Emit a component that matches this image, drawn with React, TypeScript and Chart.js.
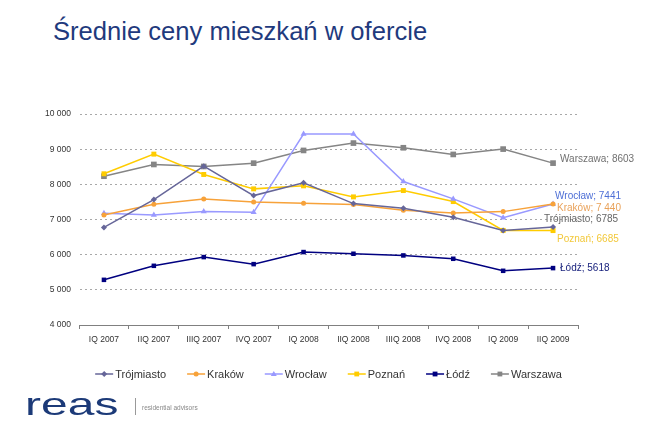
import React, { useEffect, useRef } from "react";
import { Chart, registerables } from "chart.js";

Chart.register(...registerables);

const categories = ["IQ 2007", "IIQ 2007", "IIIQ 2007", "IVQ 2007", "IQ 2008", "IIQ 2008", "IIIQ 2008", "IVQ 2008", "IQ 2009", "IIQ 2009"];

const trojmiasto = [6776, 7566, 8517, 7680, 8043, 7452, 7318, 7061, 6690, 6785];
const krakow = [7130, 7432, 7586, 7500, 7461, 7424, 7261, 7187, 7224, 7440];
const wroclaw = [7175, 7130, 7224, 7204, 9430, 9430, 8080, 7586, 7053, 7441];
const poznan = [8300, 8859, 8280, 7871, 7957, 7643, 7823, 7510, 6690, 6685];
const lodz = [5284, 5683, 5931, 5731, 6074, 6026, 5978, 5883, 5541, 5618];
const warszawa = [8231, 8565, 8508, 8602, 8964, 9173, 9040, 8850, 9002, 8603];

const seriesNames = ["Trójmiasto", "Kraków", "Wrocław", "Poznań", "Łódź", "Warszawa"];
const endLabels = ["Trójmiasto; 6785", "Kraków; 7 440", "Wrocław; 7441", "Poznań; 6685", "Łódź; 5618", "Warszawa; 8603"];

const yMin = 4000;
const yMax = 10000;
const yStep = 1000;

const FONT = "'Liberation Sans', Arial, Helvetica, sans-serif";

const colors = ["#666699", "#F7A23A", "#9999FF", "#FFCC00", "#000080", "#858585"];
const labelColors = ["#666666", "#E9A25A", "#4E6FD6", "#F2C83A", "#1A237E", "#707070"];
const pointStyles = ["rectRot", "circle", "triangle", "rect", "rect", "rect"];
const pointRadii = [3, 2.5, 3.5, 3.5, 3.2, 4];
const labelOffsets = [
  [-9, -8],
  [4, 4],
  [2, -8],
  [4, 9],
  [7, 0],
  [7, -4],
];

function fmt(v: number) {
  const s = String(Math.round(v));
  return s.replace(/\B(?=(\d{3})+(?!\d))/g, " ");
}

function drawMarker(ctx: CanvasRenderingContext2D, style: string, x: number, y: number, r: number, color: string) {
  ctx.save();
  ctx.fillStyle = color;
  ctx.beginPath();
  if (style === "circle") {
    ctx.arc(x, y, r, 0, Math.PI * 2);
  } else if (style === "rect") {
    ctx.rect(x - r * 0.8, y - r * 0.8, r * 1.6, r * 1.6);
  } else if (style === "rectRot") {
    ctx.moveTo(x, y - r);
    ctx.lineTo(x + r, y);
    ctx.lineTo(x, y + r);
    ctx.lineTo(x - r, y);
    ctx.closePath();
  } else if (style === "triangle") {
    ctx.moveTo(x, y - r);
    ctx.lineTo(x + r, y + r * 0.7);
    ctx.lineTo(x - r, y + r * 0.7);
    ctx.closePath();
  }
  ctx.fill();
  ctx.restore();
}

const overlayPlugin = {
  id: "overlay",
  afterDatasetsDraw(chart: any) {
    const ctx: CanvasRenderingContext2D = chart.ctx;
    ctx.save();
    ctx.font = `10px ${FONT}`;
    ctx.textBaseline = "middle";
    ctx.textAlign = "left";
    chart.data.datasets.forEach((ds: any, i: number) => {
      const meta = chart.getDatasetMeta(i);
      const pt = meta.data[meta.data.length - 1];
      if (!pt) return;
      ctx.fillStyle = labelColors[i];
      ctx.fillText(endLabels[i], pt.x + labelOffsets[i][0], pt.y + labelOffsets[i][1]);
    });
    // legend
    ctx.font = `11px ${FONT}`;
    const lineW = 18;
    const gap = 2;
    const itemGap = 21;
    const widths = seriesNames.map((n) => lineW + gap + ctx.measureText(n).width);
    const total = widths.reduce((a, b) => a + b, 0) + itemGap * (seriesNames.length - 1);
    const cx = (chart.chartArea.left + chart.chartArea.right) / 2;
    let x = cx - total / 2;
    const y = 374;
    seriesNames.forEach((n, i) => {
      ctx.strokeStyle = colors[i];
      ctx.lineWidth = 1.5;
      ctx.beginPath();
      ctx.moveTo(x, y);
      ctx.lineTo(x + lineW, y);
      ctx.stroke();
      drawMarker(ctx, pointStyles[i], x + lineW / 2, y, Math.min(pointRadii[i], 3), colors[i]);
      ctx.fillStyle = "#333333";
      ctx.fillText(n, x + lineW + gap, y + 0.5);
      x += widths[i] + itemGap;
    });
    ctx.restore();
  },
};

export default function App() {
  const ref = useRef<HTMLCanvasElement | null>(null);
  useEffect(() => {
    if (!ref.current) return;
    const all = [trojmiasto, krakow, wroclaw, poznan, lodz, warszawa];
    const chart = new Chart(ref.current, {
      type: "line",
      data: {
        labels: categories,
        datasets: all.map((d, i) => ({
          label: seriesNames[i],
          data: d,
          borderColor: colors[i],
          backgroundColor: colors[i],
          borderWidth: 1.5,
          pointStyle: pointStyles[i] as any,
          pointRadius: pointRadii[i],
          pointBorderWidth: 0,
          pointBackgroundColor: colors[i],
          tension: 0,
          fill: false,
        })),
      },
      options: {
        responsive: false,
        animation: false,
        layout: { padding: { left: 0, right: 86, top: 114, bottom: 77 } },
        plugins: {
          legend: { display: false },
          tooltip: { enabled: false },
          title: { display: false },
        },
        scales: {
          x: {
            offset: true,
            grid: {
              offset: true,
              drawOnChartArea: false,
              drawTicks: true,
              tickLength: 4,
              color: "#808080",
            },
            border: { display: true, color: "#808080", width: 1 },
            ticks: {
              color: "#333333",
              font: { family: FONT, size: 8.5 },
              padding: 6,
              maxRotation: 0,
              autoSkip: false,
            },
            afterFit(scale: any) {
              scale.height = 30;
            },
          },
          y: {
            min: yMin,
            max: yMax,
            grid: {
              drawTicks: false,
              color: (c: any) => (c.tick && c.tick.value === yMin ? "rgba(0,0,0,0)" : "#A8A8A8"),
              lineWidth: 1,
            },
            border: { display: true, color: "rgba(0,0,0,0)", dash: [2, 3] },
            ticks: {
              stepSize: yStep,
              color: "#333333",
              font: { family: FONT, size: 8.5 },
              padding: 8,
              callback: (v: any) => fmt(Number(v)),
            },
            afterFit(scale: any) {
              scale.width = 79;
            },
          },
        },
      },
      plugins: [overlayPlugin],
    });
    return () => chart.destroy();
  }, []);

  return (
    <div style={{ position: "fixed", left: 0, top: 0, width: 664, height: 432, background: "#fff", overflow: "hidden" }}>
      <div
        style={{
          position: "absolute",
          left: 53,
          top: 16,
          fontFamily: FONT,
          fontSize: 25.6,
          color: "#1F3A7D",
          whiteSpace: "nowrap",
          lineHeight: "30px",
        }}
      >
        Średnie ceny mieszkań w ofercie
      </div>
      <canvas ref={ref} width={664} height={432} style={{ position: "absolute", left: 0, top: 0 }} />
      <div
        style={{
          position: "absolute",
          left: 25,
          top: 386,
          fontFamily: FONT,
          fontSize: 32,
          lineHeight: "36px",
          color: "#1C3A78",
          transform: "scaleX(1.5)",
          transformOrigin: "left top",
          whiteSpace: "nowrap",
        }}
      >
        reas
      </div>
      <div style={{ position: "absolute", left: 135, top: 398, width: 1, height: 17, background: "#999" }} />
      <div
        style={{
          position: "absolute",
          left: 142,
          top: 404,
          fontFamily: FONT,
          fontSize: 6.5,
          lineHeight: "8px",
          color: "#888",
          whiteSpace: "nowrap",
        }}
      >
        residential advisors
      </div>
    </div>
  );
}
